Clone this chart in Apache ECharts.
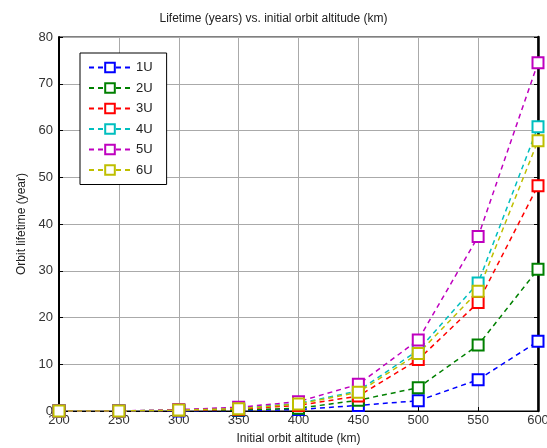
<!DOCTYPE html>
<html>
<head>
<meta charset="utf-8">
<script src="https://cdn.jsdelivr.net/npm/echarts@6/dist/echarts.min.js"></script>
<style>
  html, body { margin: 0; padding: 0; background: #fff; }
  #chart { width: 547px; height: 448px; }
</style>
</head>
<body>
<div id="chart"></div>
<script>
const altitudes = ['200', '250', '300', '350', '400', '450', '500', '550', '600']
const seriesNames = ['1U', '2U', '3U', '4U', '5U', '6U']
const lifetime1U = [0, 0, 0, 0.1, 0.3, 1.2, 2.2, 6.7, 14.9]
const lifetime2U = [0, 0, 0.1, 0.2, 0.6, 2.3, 5.0, 14.1, 30.3]
const lifetime3U = [0, 0, 0.1, 0.4, 1.2, 3.2, 11.0, 23.2, 48.2]
const lifetime4U = [0, 0, 0.2, 0.6, 1.6, 4.3, 13.0, 27.4, 60.8]
const lifetime5U = [0, 0, 0.3, 0.8, 2.0, 5.7, 15.2, 37.3, 74.5]
const lifetime6U = [0, 0, 0.2, 0.5, 1.5, 4.0, 12.3, 25.6, 57.8]

const allData = [lifetime1U, lifetime2U, lifetime3U, lifetime4U, lifetime5U, lifetime6U]
const colors = ['#0000ff', '#008000', '#ff0000', '#00bfbf', '#bf00bf', '#bfbf00']

const chart = echarts.init(document.getElementById('chart'))

const labelFont = { fontFamily: 'Liberation Sans', fontSize: 13, color: '#333' }

const option = {
  animation: false,
  title: {
    text: 'Lifetime (years) vs. initial orbit altitude (km)',
    left: 'center',
    top: 8,
    textStyle: { fontFamily: 'Liberation Sans', fontSize: 12, fontWeight: 'normal', color: '#222' },
  },
  grid: {
    left: 59, right: 9, top: 37, bottom: 37,
    outerBoundsMode: 'none',
    show: true, borderColor: '#000', borderWidth: 1,
  },
  legend: {
    orient: 'vertical',
    left: 80,
    top: 53,
    padding: [8, 14, 8, 8],
    itemGap: 7.5,
    itemWidth: 42,
    itemHeight: 12,
    backgroundColor: '#fff',
    borderColor: '#000',
    borderWidth: 1,
    textStyle: { fontFamily: 'Liberation Sans', fontSize: 13, color: '#222' },
    data: seriesNames,
  },
  xAxis: {
    type: 'category',
    data: altitudes,
    boundaryGap: false,
    name: 'Initial orbit altitude (km)',
    nameLocation: 'middle',
    nameGap: 22,
    nameTextStyle: { fontFamily: 'Liberation Sans', fontSize: 12, color: '#222' },
    axisLine: { lineStyle: { color: '#000', width: 1 } },
    axisTick: { inside: true, length: 4, lineStyle: { color: '#000' } },
    axisLabel: Object.assign({ margin: 3 }, labelFont),
    splitLine: { show: true, lineStyle: { color: '#aaa', width: 1 } },
  },
  yAxis: [
    {
      type: 'value',
      min: 0,
      max: 80,
      interval: 10,
      name: 'Orbit lifetime (year)',
      nameLocation: 'middle',
      nameGap: 30,
      nameTextStyle: { fontFamily: 'Liberation Sans', fontSize: 12, color: '#222' },
      axisLine: { show: true, lineStyle: { color: '#000', width: 2 } },
      axisTick: { show: true, inside: true, length: 4, lineStyle: { color: '#000' } },
      axisLabel: Object.assign({ margin: 6 }, labelFont),
      splitLine: { show: true, lineStyle: { color: '#aaa', width: 1 } },
    },
    {
      type: 'value',
      position: 'right',
      min: 0,
      max: 80,
      interval: 10,
      axisLine: { show: true, lineStyle: { color: '#000', width: 2.5 } },
      axisTick: { show: true, inside: true, length: 4, lineStyle: { color: '#000' } },
      axisLabel: { show: false },
      splitLine: { show: false },
    },
  ],
  series: seriesNames.map((name, i) => ({
    name,
    type: 'line',
    data: allData[i],
    symbol: 'emptyRect',
    symbolSize: 11,
    showAllSymbol: true,
    lineStyle: { color: colors[i], width: 1.5, type: [5, 4] },
    itemStyle: { color: colors[i], borderColor: colors[i], borderWidth: 1.5 },
  })),
}

chart.setOption(option)
</script>
</body>
</html>
